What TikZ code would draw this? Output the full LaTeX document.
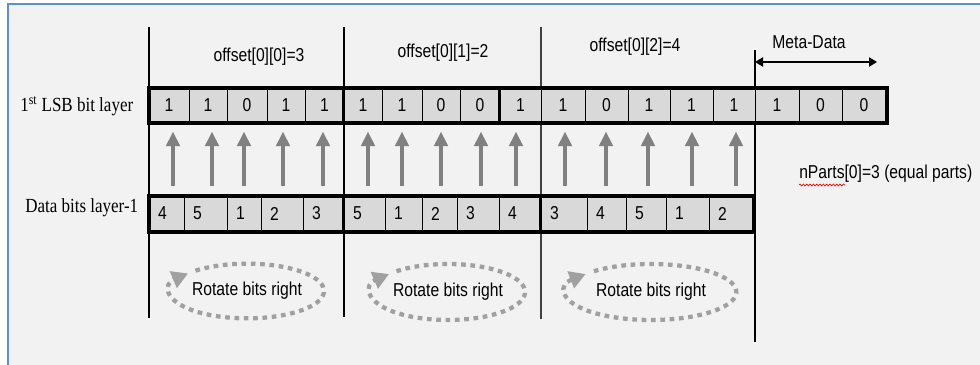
\documentclass[tikz,border=0pt]{standalone}
\usepackage{fontspec}
\setmainfont{Liberation Sans}
\newfontfamily\sfn[FakeStretch=0.84]{Liberation Sans}
\newfontfamily\sern[FakeStretch=0.85]{Liberation Serif}
\usetikzlibrary{arrows.meta,decorations.pathmorphing}
\definecolor{bg}{HTML}{F2F2F2}
\definecolor{cellfill}{HTML}{D9D9D9}
\definecolor{frameblue}{HTML}{5B8FD6}
\definecolor{arrgray}{HTML}{808080}
\definecolor{dotgray}{HTML}{A0A0A0}
\begin{document}
\begin{tikzpicture}[x=0.75pt,y=-0.75pt,
  txt/.style={font=\sfn\fontsize{14}{16}\selectfont, inner sep=0pt},
  sertxt/.style={font=\sern\fontsize{15}{17}\selectfont, inner sep=0pt},
  tcell/.style={draw=black, line width=0.75pt, fill=cellfill, minimum height=25.5pt, inner sep=0pt, font=\sfn\fontsize{14}{16}\selectfont},
  bcell/.style={draw=black, line width=0.75pt, fill=cellfill, minimum height=26.25pt, inner sep=0pt},
  outerbox/.style={draw=black, line width=3pt},
  sepline/.style={draw=black, line width=2.25pt},
  vline/.style={draw=black, line width=1pt},
  uparr/.style={draw=arrgray, line width=3pt, -{Triangle[length=11pt,width=10pt]}, shorten >=6.75pt, shorten <=7.5pt},
  metaarr/.style={draw=black, line width=1.1pt, {Triangle[length=6pt,width=7pt]}-{Triangle[length=6pt,width=7pt]}},
  rot/.style={draw=dotgray, line width=3.2pt, dash pattern=on 3.5pt off 3.5pt, -{Triangle[length=12pt,width=13pt]}},
  squig/.style={draw=red, line width=0.5pt, decorate, decoration={snake, amplitude=0.7pt, segment length=2.5pt}}
]
\useasboundingbox (0,0) rectangle (980,364);
% background and frame
\fill[white] (0,0) rectangle (980,364);
\fill[bg] (8,4) rectangle (982,366);
\draw[frameblue, line width=1.5pt] (8,366) -- (8,4) -- (982,4);

% vertical separators
\coordinate (v1a) at (149,27);  \coordinate (v1b) at (149,318);
\coordinate (v2a) at (344,27);  \coordinate (v2b) at (344,317);
\coordinate (v3a) at (541,27);  \coordinate (v3b) at (541,319);
\coordinate (v4a) at (755,50);  \coordinate (v4b) at (755,342);
\draw[vline] (v1a) -- (v1b);
\draw[vline] (v2a) -- (v2b);
\draw[vline, draw=black!75] (v3a) -- (v3b);
\draw[vline] (v4a) -- (v4b);

% top row cells
\foreach \l/\r/\t/\n in {149/189/1/1, 189/227/1/2, 227/267/0/3, 267/305/1/4, 305/344/1/5,
  344/382/1/6, 382/422/1/7, 422/460/0/8, 460/500/0/9, 500/541/1/10,
  541/585/1/11, 585/628/0/12, 628/670/1/13, 670/713/1/14, 713/755/1/15,
  755/799/1/16, 799/842/0/17, 842/886/0/18}
  \node[tcell, minimum width={(\r-\l)*0.75pt}] (t\n) at ({(\l+\r)/2},105) {\t};
\draw[outerbox] (t1.north west) rectangle (t18.south east);
\draw[sepline] (t6.north west) -- (t6.south west);
\draw[sepline] (t10.north west) -- (t10.south west);

% bottom row cells
\foreach \l/\r/\t/\n in {149/184/4/1, 184/227/5/2, 227/261/1/3, 261/303/2/4, 303/344/3/5,
  344/385/5/6, 385/422/1/7, 422/457/2/8, 457/499/3/9, 499/541/4/10,
  541/587/3/11, 587/626/4/12, 626/666/5/13, 666/709/1/14, 709/753/2/15}
{
  \node[bcell, minimum width={(\r-\l)*0.75pt}] (b\n) at ({(\l+\r)/2},213.5) {};
  \node[txt, anchor=west] (bt\n) at ([xshift=7pt]b\n.west) {\t};
}
\draw[outerbox] (b1.north west) rectangle (b15.south east);
\draw[sepline] (b6.north west) -- (b6.south west);
\draw[sepline] (b11.north west) -- (b11.south west);

% arrows from data bits to LSB layer
\foreach \x/\n in {173/1, 212/2, 244/3, 283/4, 323/5, 368/6, 402/7, 441/8, 481/9, 516/10,
  565/11, 606/12, 648/13, 692/14, 736/15}
{
  \coordinate (ax\n) at (\x,0);
  \draw[uparr] (ax\n |- b1.north) -- (ax\n |- t1.south);
}

% labels
\node[sertxt, anchor=west] (lsb) at (20,106) {1\textsuperscript{st} LSB bit layer};
\node[sertxt, anchor=west] (dbl) at (25,208) {Data bits layer-1};
\node[txt] (o1) at (259,57) {offset[0][0]=3};
\node[txt] (o2) at (443,53) {offset[0][1]=2};
\node[txt] (o3) at (635,47) {offset[0][2]=4};
\node[txt] (md) at (809,42) {Meta-Data};
\coordinate (m1) at (755,62);
\coordinate (m2) at (877,62);
\draw[metaarr] (m1) -- (m2);
\node[txt, anchor=west] (np) at (799,174) {nParts[0]=3 (equal parts)};
\draw[squig] ([yshift=-1.5pt]np.south west) -- ++(46,0);

% rotate ellipses
\node[txt] (r1) at (247,291) {Rotate bits right};
\node[txt] (r2) at (448,292) {Rotate bits right};
\node[txt] (r3) at (651,292) {Rotate bits right};
\draw[rot] ([shift={(132:57.75pt and 20.5pt)}]r1.center) arc[start angle=132, end angle=-220, x radius=57.75pt, y radius=20.5pt];
\draw[rot] ([shift={(132:57.75pt and 21pt)}]r2.center) arc[start angle=132, end angle=-220, x radius=57.75pt, y radius=21pt];
\draw[rot] ([shift={(132:64pt and 21pt)}]r3.center) arc[start angle=132, end angle=-220, x radius=64pt, y radius=21pt];
\end{tikzpicture}
\end{document}
